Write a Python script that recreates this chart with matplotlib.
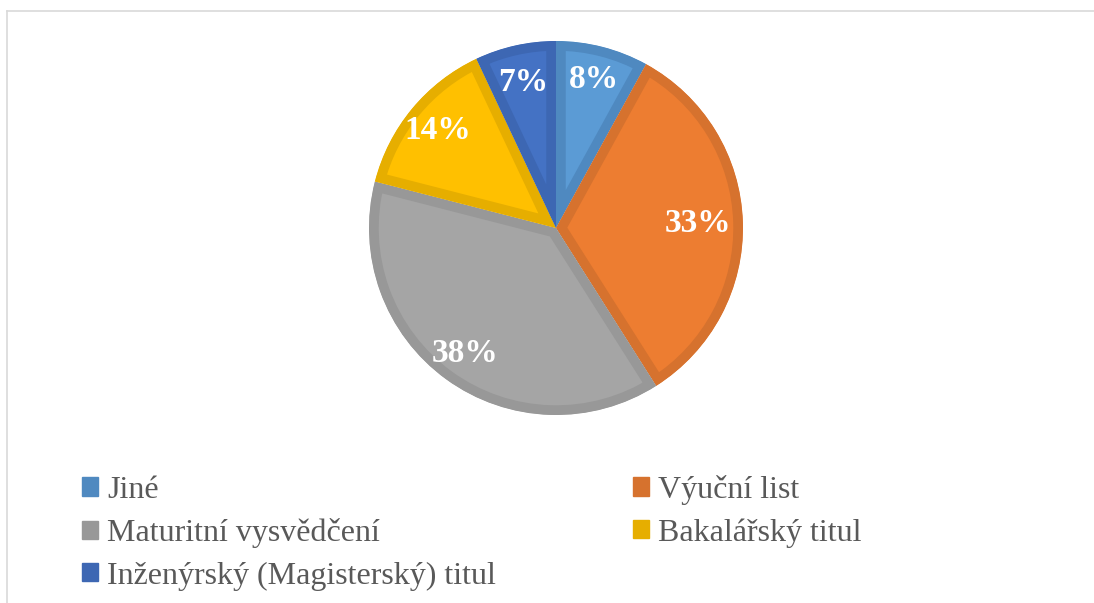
import numpy as np
import matplotlib.pyplot as plt
from matplotlib.lines import Line2D
from matplotlib.patches import Patch, Wedge

# data
labels = ['Jiné', 'Výuční list', 'Maturitní vysvědčení', 'Bakalářský titul',
          'Inženýrský (Magisterský) titul']
shares = [8, 33, 38, 14, 7]
colors = ['#5B9BD5', '#ED7D31', '#A5A5A5', '#FFC000', '#4472C4']
edges = ['#4F89C0', '#D6722E', '#989898', '#E6AE00', '#3D67B3']
label_dist = [0.82, 0.76, 0.83, 0.82, 0.8]

plt.rcParams['font.family'] = ['Liberation Serif', 'DejaVu Serif']

W, H = 1094, 603
fig = plt.figure(figsize=(W / 100, H / 100), dpi=100)

# pie placement (pixels)
cx, cy, r = 556, 228, 187
ax = fig.add_axes([(cx - r) / W, (H - cy - r) / H, 2 * r / W, 2 * r / H])

wedges, texts, autotexts = ax.pie(
    shares, colors=colors, startangle=90, counterclock=False,
    autopct='%1.0f%%', pctdistance=0.8, radius=1.0,
    textprops=dict(color='white', fontsize=24, fontweight='bold'))

# inner darker border like Excel: stroke clipped to a copy of the wedge
for w, ec, t, d in zip(wedges, edges, autotexts, label_dist):
    clip = Wedge(w.center, w.r, w.theta1, w.theta2, transform=ax.transData)
    w.set_edgecolor(ec)
    w.set_linewidth(14)
    w.set_joinstyle('miter')
    w.set_clip_on(True)
    w.set_clip_path(clip)
    mid = np.deg2rad((w.theta1 + w.theta2) / 2)
    t.set_position((d * np.cos(mid), d * np.sin(mid)))

ax.set_xlim(-1, 1)
ax.set_ylim(-1, 1)
ax.set_aspect('equal')
ax.axis('off')

# legend, row-wise order like the original
order = [0, 2, 4, 1, 3]
handles = [Patch(facecolor=edges[i], edgecolor=edges[i]) for i in order]
leg = fig.legend(handles, [labels[i] for i in order], ncol=2,
                 loc='upper left', bbox_to_anchor=(53 / W, 1 - 446 / H),
                 frameon=False, fontsize=23, labelcolor='#595959',
                 handlelength=0.5, handleheight=0.5, handletextpad=0.3,
                 columnspacing=4.27, labelspacing=0.42)

# chart frame (partly visible)
fig.add_artist(Line2D([7 / W, 7 / W], [0, 1 - 11 / H], color='#D9D9D9', lw=1.2))
fig.add_artist(Line2D([7 / W, 1], [1 - 11 / H, 1 - 11 / H], color='#D9D9D9', lw=1.2))

fig.savefig('out.png', dpi=100)
